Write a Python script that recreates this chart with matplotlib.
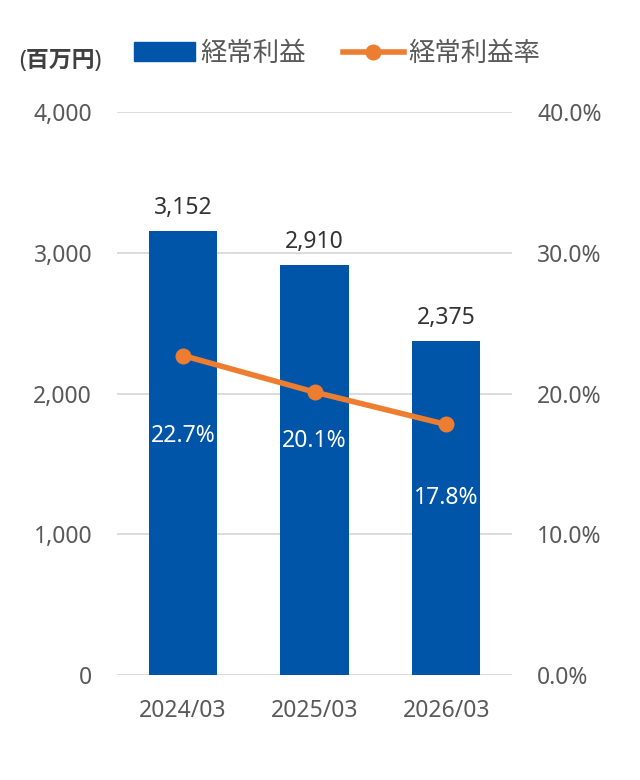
import matplotlib.pyplot as plt
from matplotlib.lines import Line2D
from matplotlib.patches import Patch

plt.rcParams['font.family'] = ['Noto Sans', 'Noto Sans CJK JP']

periods = ['2024/03', '2025/03', '2026/03']
profit = [3152, 2910, 2375]          # 経常利益 (百万円)
margin = [22.7, 20.1, 17.8]          # 経常利益率 (%)

bar_color = '#0055A8'
line_color = '#ED7D31'
text_gray = '#595959'

fig = plt.figure(figsize=(6.4, 7.8), dpi=100)
ax = fig.add_axes([0.183, 0.1346, 0.617, 0.7218])
ax2 = ax.twinx()

x = range(len(periods))
ax.bar(x, profit, width=0.52, color=bar_color, zorder=2)
ax.set_xlim(-0.5, 2.5)
ax.set_ylim(0, 4000)
ax.set_yticks([0, 1000, 2000, 3000, 4000])
ax.set_yticklabels(['{:,}'.format(v) for v in [0, 1000, 2000, 3000, 4000]])
ax.set_xticks(list(x))
ax.set_xticklabels(periods)
ax.grid(axis='y', color='#D9D9D9', linewidth=1.3, zorder=0)
ax.set_axisbelow(True)

ax2.plot(x, margin, color=line_color, linewidth=4, marker='o', markersize=10.5, zorder=3)
ax2.set_ylim(0, 40)
ax2.set_yticks([0, 10, 20, 30, 40])
ax2.set_yticklabels(['{:.1f}%'.format(v) for v in [0, 10, 20, 30, 40]])

for a in (ax, ax2):
    for s in a.spines.values():
        s.set_visible(False)
    a.tick_params(length=0, labelsize=16.5, colors=text_gray)
ax.tick_params(axis='y', pad=18)
ax.tick_params(axis='x', pad=17)
ax2.tick_params(axis='y', pad=18)

# bar value labels
for i, v in enumerate(profit):
    ax.annotate('{:,}'.format(v), (i, v), xytext=(0, 8), textcoords='offset points',
                ha='center', va='bottom', fontsize=16.5, color='#333333')

# margin labels inside the bars
label_offsets = [-56, -33, -51]
for i, v in enumerate(margin):
    ax2.annotate('{:.1f}%'.format(v), (i, v), xytext=(0, label_offsets[i]),
                 textcoords='offset points', ha='center', va='center_baseline',
                 fontsize=16.5, color='white', zorder=4)

fig.text(0.03, 0.922, '(百万円)', fontsize=16.5, fontweight='bold', color='#404040',
         ha='left', va='center')

handles = [Patch(facecolor=bar_color, edgecolor=bar_color),
           Line2D([0], [0], color=line_color, linewidth=4, marker='o', markersize=10.5)]
fig.legend(handles, ['経常利益', '経常利益率'], loc='center left',
           bbox_to_anchor=(0.21, 0.931), ncol=2, frameon=False, fontsize=19,
           labelcolor=text_gray, handlelength=2.3, handleheight=0.7,
           handletextpad=0.2, columnspacing=1.4, borderpad=0, borderaxespad=0)

fig.savefig('out.png', dpi=100)
